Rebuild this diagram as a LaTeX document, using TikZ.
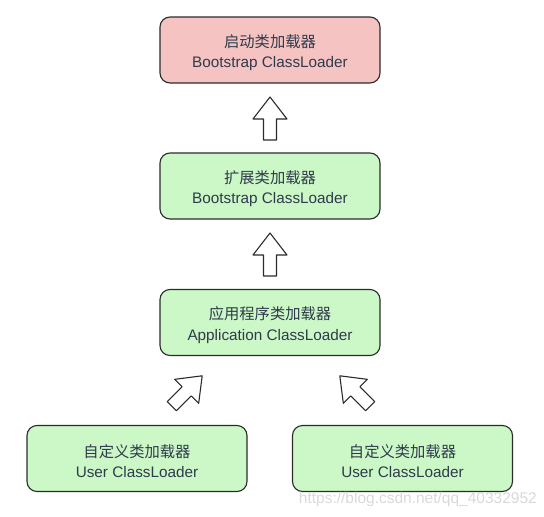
\documentclass[tikz,border=0pt]{standalone}
\usepackage{fontspec}
\setmainfont{Liberation Sans}
\newfontfamily\cjk{Noto Sans CJK SC}
\definecolor{pinkfill}{HTML}{F5C3C2}
\definecolor{greenfill}{HTML}{CCF7C6}
\definecolor{edgecol}{HTML}{2B2B2B}
\definecolor{txtcol}{HTML}{2F3B4C}
\newcommand{\twoline}[2]{\rule{0pt}{18pt}{\cjk #1}\\#2}
\tikzset{
  loader/.style={draw=edgecol, line width=1.1pt, rounded corners=10pt,
    minimum width=220pt, minimum height=66pt, align=center,
    text=txtcol, inner sep=0pt, font=\fontsize{15.3}{20.5}\selectfont},
  bootbox/.style={loader, fill=pinkfill},
  greenbox/.style={loader, fill=greenfill},
  barrow/.pic={
    \draw[draw=edgecol, fill=white, line width=1.1pt, line join=round]
      (0,-6.5) -- (21,-6.5) -- (21,-17) -- (43,0) -- (21,17) -- (21,6.5) -- (0,6.5) -- cycle;
  }
}
\begin{document}
\begin{tikzpicture}[x=1pt,y=-1pt]
\useasboundingbox (0,0) rectangle (544,517);
\node[bootbox] (boot) at (270,50) {\twoline{启动类加载器}{Bootstrap ClassLoader}};
\node[greenbox] (ext) at (270,186) {\twoline{扩展类加载器}{Bootstrap ClassLoader}};
\node[greenbox] (app) at (270,322.5) {\twoline{应用程序类加载器}{Application ClassLoader}};
\node[greenbox] (user1) at (137,458.5) {\twoline{自定义类加载器}{User ClassLoader}};
\node[greenbox] (user2) at (402.5,458.5) {\twoline{自定义类加载器}{User ClassLoader}};
\pic[rotate=90] at (270,140) {barrow};
\pic[rotate=90] at (270,276) {barrow};
\pic[rotate=45] at (171.8,406.2) {barrow};
\pic[rotate=135] at (370.2,406.2) {barrow};
\node[text=black!15, font=\fontsize{15.5}{17}\selectfont, anchor=east, inner sep=0pt] (wm) at (537,499) {https://blog.csdn.net/qq\_40332952};
\end{tikzpicture}
\end{document}
